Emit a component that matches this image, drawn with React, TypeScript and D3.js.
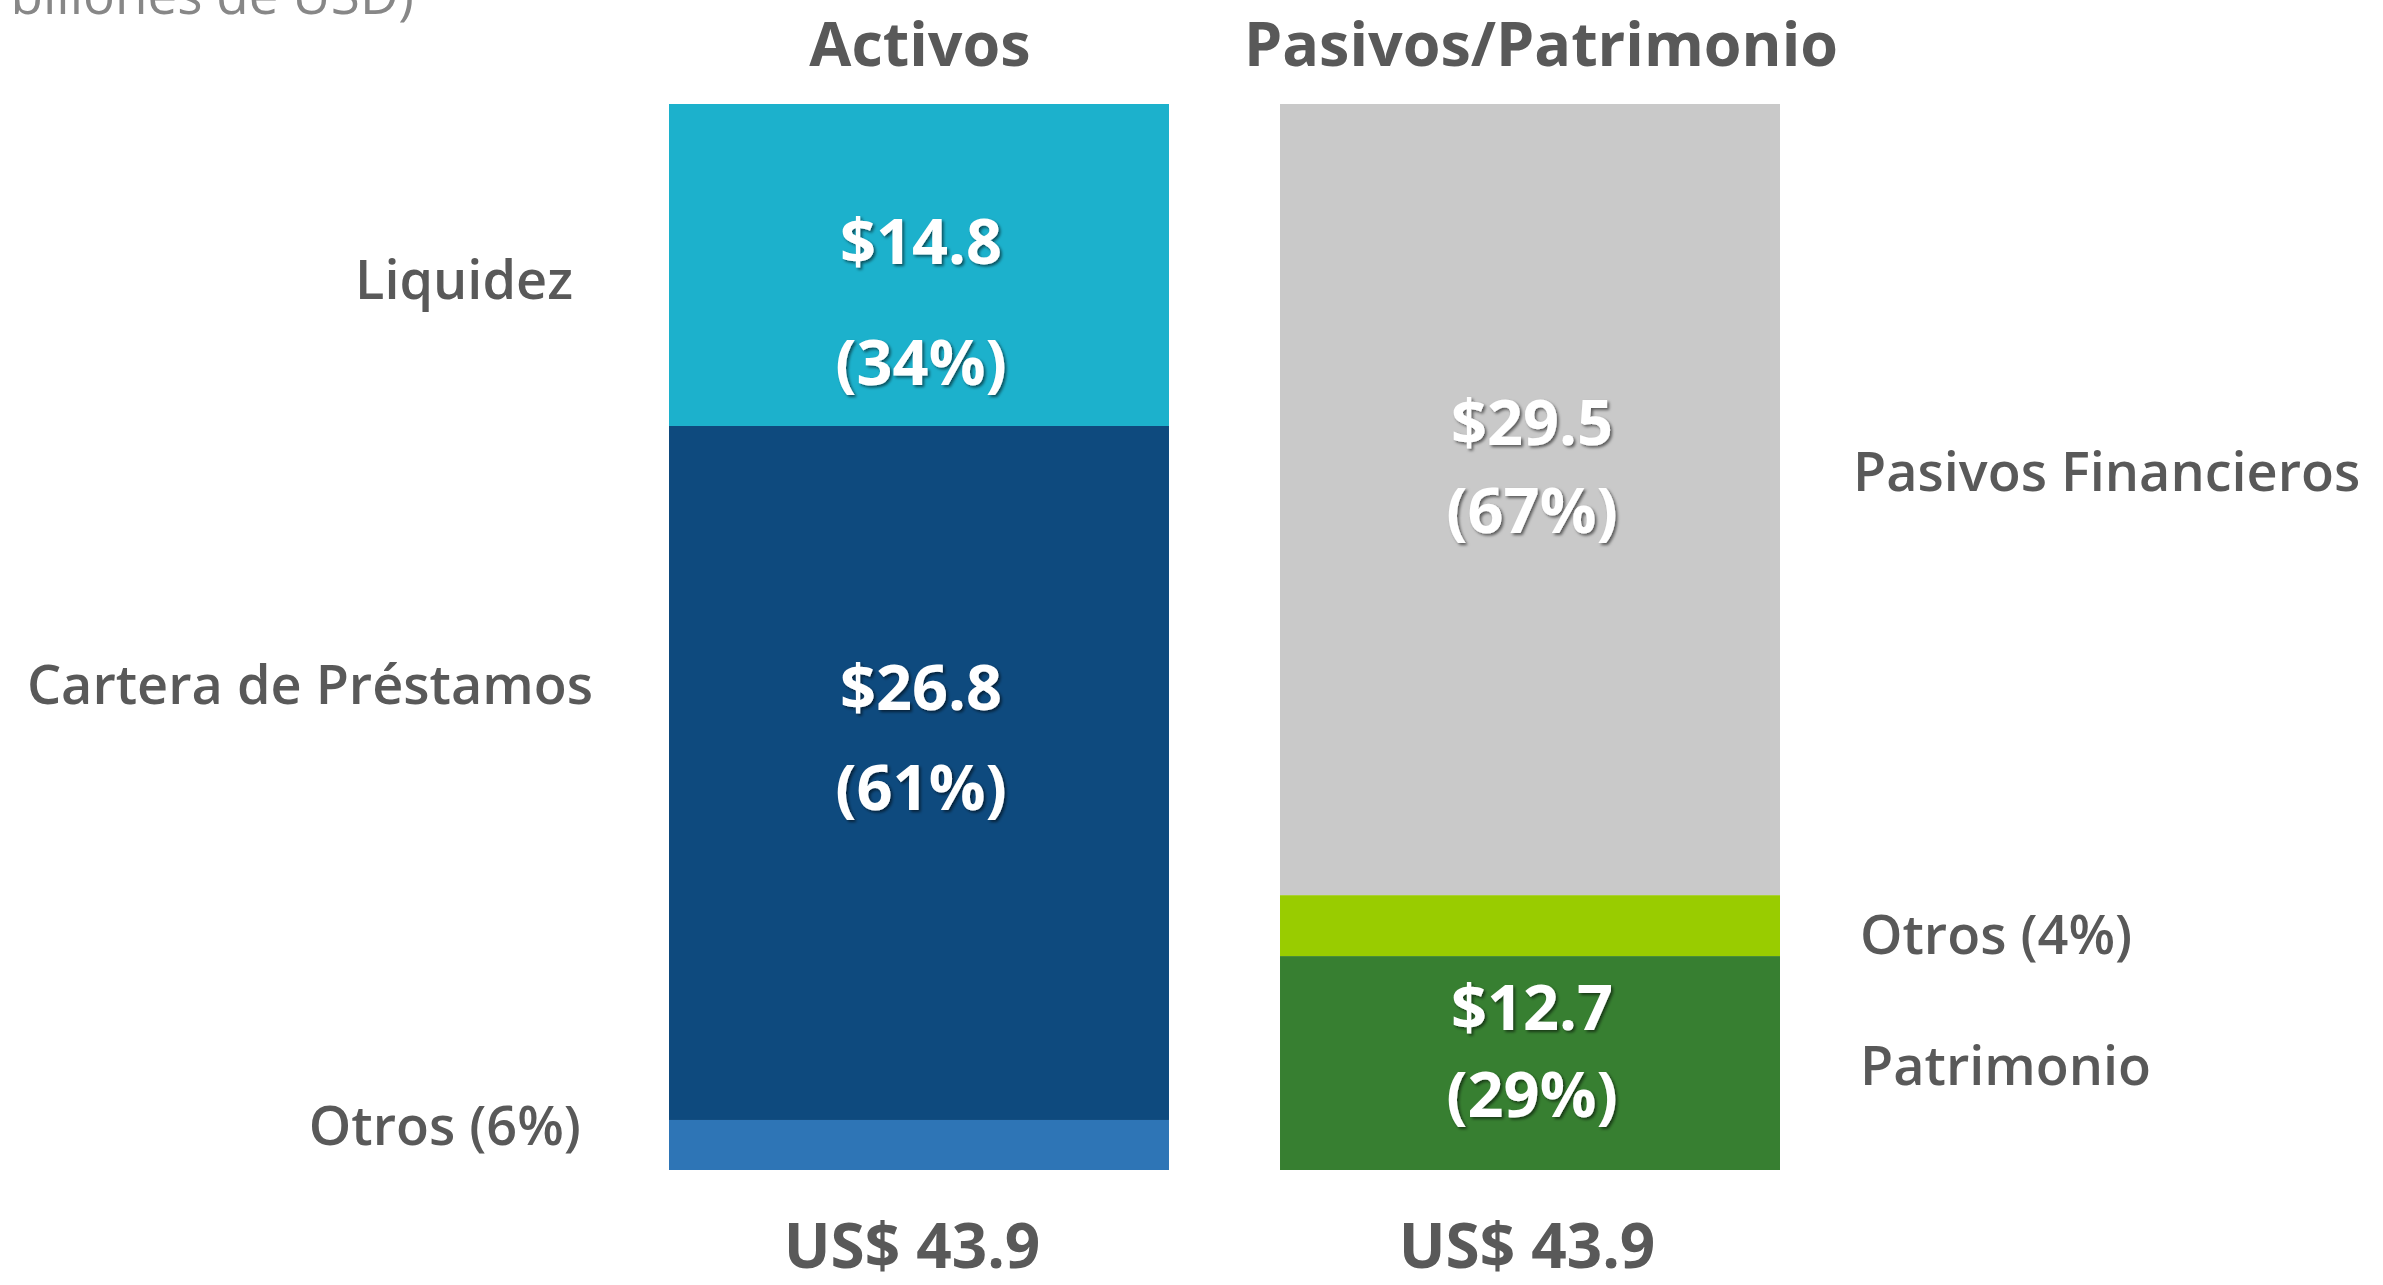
import React from "react";
import * as d3 from "d3";

// columns
const categories = ["Activos", "Pasivos/Patrimonio"];
const totalLabels = ["US$ 43.9", "US$ 43.9"];
const total = 43.9;

// segments, bottom to top (heights as drawn in the picture, USD billions)
const activosNames = ["Otros (6%)", "Cartera de Préstamos", "Liquidez"];
const activosValues = [2.06, 28.58, 13.26];
const activosValueLabels = ["", "$26.8", "$14.8"];
const activosPctLabels = ["", "(61%)", "(34%)"];
const activosColors = ["#2E75B6", "#0E4A7E", "#1CB1CC"];

const pasivosNames = ["Patrimonio", "Otros (4%)", "Pasivos Financieros"];
const pasivosValues = [8.81, 2.51, 32.58];
const pasivosValueLabels = ["$12.7", "", "$29.5"];
const pasivosPctLabels = ["(29%)", "", "(67%)"];
const pasivosColors = ["#377F31", "#99CC00", "#C9C9C9"];

const subtitle = "(En billones de USD)";

const W = 2383;
const H = 1285;
const FONT = "'Open Sans', Lato, sans-serif";
const GREY = "#595959";

// fine placement of the annotation texts (px offsets)
const inBarOffset: Record<string, [number, number]> = {
  Liquidez: [-1, 120],
  "Cartera de Préstamos": [-63, 37],
  "Pasivos Financieros": [-55, 33],
  Patrimonio: [-33, 54],
};
const sideOffset: Record<string, [number, number]> = {
  Liquidez: [96, 34],
  "Cartera de Préstamos": [76, -69],
  "Otros (6%)": [88, 0],
  "Pasivos Financieros": [73, -9],
  "Otros (4%)": [80, 28],
  Patrimonio: [80, 22],
};

const App = () => {
  const x = d3
    .scaleBand()
    .domain(categories)
    .range([669, 1780])
    .paddingInner(0.1817)
    .paddingOuter(0);
  const y = d3.scaleLinear().domain([0, total]).range([1170, 104]);

  const columns = [
    {
      cat: categories[0],
      names: activosNames,
      values: activosValues,
      valueLabels: activosValueLabels,
      pctLabels: activosPctLabels,
      colors: activosColors,
      side: "left",
    },
    {
      cat: categories[1],
      names: pasivosNames,
      values: pasivosValues,
      valueLabels: pasivosValueLabels,
      pctLabels: pasivosPctLabels,
      colors: pasivosColors,
      side: "right",
    },
  ];

  return (
    <svg
      width={W}
      height={H}
      style={{ position: "absolute", left: 0, top: 0, background: "#fff" }}
      fontFamily={FONT}
    >
      <defs>
        <filter id="shadow" x="-20%" y="-20%" width="140%" height="140%">
          <feDropShadow dx="2" dy="2" stdDeviation="1.5" floodColor="#000" floodOpacity="0.55" />
        </filter>
      </defs>

      <text x={414} y={14} textAnchor="end" fontSize={53} fill="#878787">
        {subtitle}
      </text>

      {columns.map((col, ci) => {
        const x0 = x(col.cat) as number;
        const bw = x.bandwidth();
        const cx = x0 + bw / 2;
        const stacked = d3.cumsum(col.values);
        return (
          <g key={col.cat}>
            {col.values.map((v, i) => {
              const top = y(stacked[i]);
              const bottom = y(stacked[i] - v);
              return (
                <rect
                  key={col.names[i]}
                  x={x0}
                  y={top}
                  width={bw}
                  height={bottom - top}
                  fill={col.colors[i]}
                />
              );
            })}
            {col.values.map((v, i) => {
              if (!col.valueLabels[i]) return null;
              const mid = y(stacked[i] - v / 2);
              const [dv, dp] = inBarOffset[col.names[i]];
              return (
                <g key={"lab" + i} fill="#fff" fontWeight={700} fontSize={63} textAnchor="middle" filter="url(#shadow)">
                  <text x={cx + 2} y={mid + dv}>{col.valueLabels[i]}</text>
                  <text x={cx + 2} y={mid + dp}>{col.pctLabels[i]}</text>
                </g>
              );
            })}
            {col.values.map((v, i) => {
              const mid = y(stacked[i] - v / 2);
              const [dx, dy] = sideOffset[col.names[i]];
              const left = col.side === "left";
              return (
                <text
                  key={"side" + i}
                  x={left ? x0 - dx : x0 + bw + dx}
                  y={mid + dy}
                  textAnchor={left ? "end" : "start"}
                  fontSize={54}
                  fontWeight={600}
                  fill={GREY}
                >
                  {col.names[i]}
                </text>
              );
            })}
            <text
              x={cx + (ci === 1 ? 11 : 1)}
              y={66}
              textAnchor="middle"
              fontSize={61}
              fontWeight={700}
              fill={GREY}
            >
              {col.cat}
            </text>
            <text
              x={cx - (ci === 0 ? 7 : 3)}
              y={1268}
              textAnchor="middle"
              fontSize={62}
              fontWeight={700}
              fill={GREY}
            >
              {totalLabels[ci]}
            </text>
          </g>
        );
      })}
    </svg>
  );
};

export default App;
